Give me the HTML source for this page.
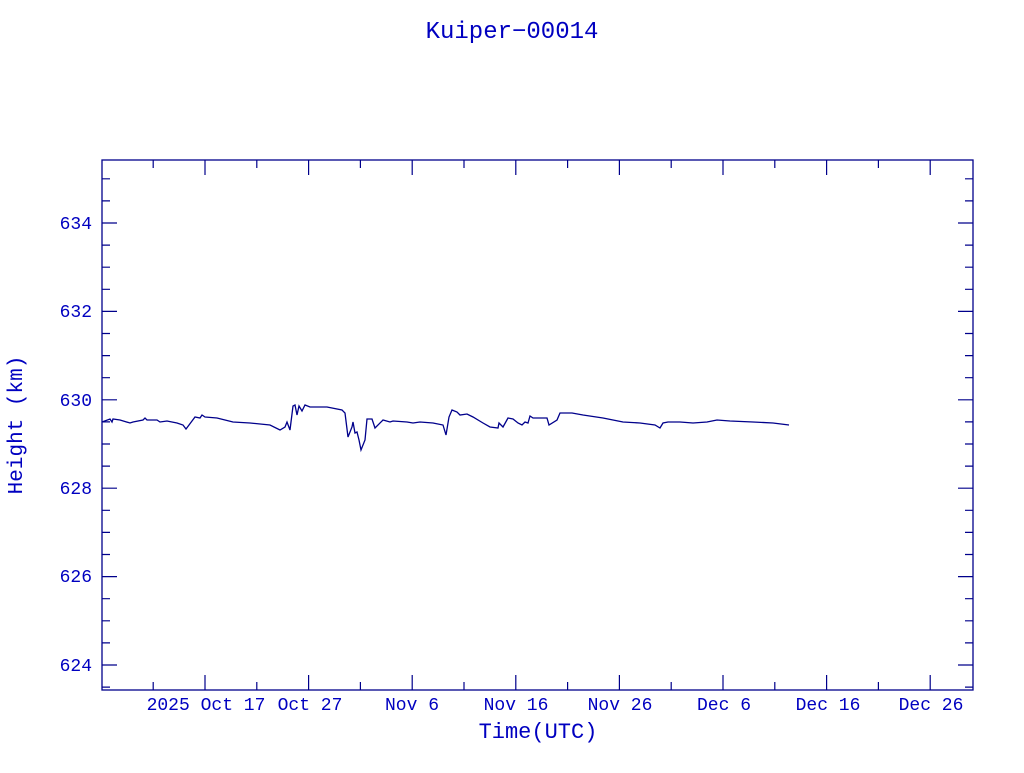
<!DOCTYPE html>
<html><head><meta charset="utf-8"><style>
html,body{margin:0;padding:0;background:#fff;}
svg text{font-family:"Liberation Mono",monospace;fill:#0000c0;}
</style></head><body>
<svg width="1024" height="768" xmlns="http://www.w3.org/2000/svg">
<rect width="1024" height="768" fill="#fff"/>
<text x="512" y="38" font-size="24" text-anchor="middle">Kuiper−00014</text>
<rect x="102" y="160" width="871" height="530" fill="none" stroke="#00008b" stroke-width="1.3"/>
<path fill="none" stroke="#00008b" stroke-width="1.2" d="
M102 665h15M102 576.6h15M102 488.2h15M102 399.8h15M102 311.4h15M102 223h15
M973 665h-15M973 576.6h-15M973 488.2h-15M973 399.8h-15M973 311.4h-15M973 223h-15
M102 687.1h8M102 642.9h8M102 620.8h8M102 598.7h8M102 554.5h8M102 532.4h8M102 510.3h8M102 466.1h8M102 444h8M102 421.9h8M102 377.7h8M102 355.6h8M102 333.5h8M102 289.3h8M102 267.2h8M102 245.1h8M102 200.9h8M102 178.8h8
M973 687.1h-8M973 642.9h-8M973 620.8h-8M973 598.7h-8M973 554.5h-8M973 532.4h-8M973 510.3h-8M973 466.1h-8M973 444h-8M973 421.9h-8M973 377.7h-8M973 355.6h-8M973 333.5h-8M973 289.3h-8M973 267.2h-8M973 245.1h-8M973 200.9h-8M973 178.8h-8
M205 690v-15M308.6 690v-15M412.2 690v-15M515.8 690v-15M619.4 690v-15M723 690v-15M826.6 690v-15M930.2 690v-15
M205 160v15M308.6 160v15M412.2 160v15M515.8 160v15M619.4 160v15M723 160v15M826.6 160v15M930.2 160v15
M153.2 690v-8M256.8 690v-8M360.4 690v-8M464 690v-8M567.6 690v-8M671.2 690v-8M774.8 690v-8M878.4 690v-8
M153.2 160v8M256.8 160v8M360.4 160v8M464 160v8M567.6 160v8M671.2 160v8M774.8 160v8M878.4 160v8"/>
<g font-size="18" text-anchor="end">
<text x="92" y="229">634</text>
<text x="92" y="317">632</text>
<text x="92" y="406">630</text>
<text x="92" y="494">628</text>
<text x="92" y="582">626</text>
<text x="92" y="671">624</text>
</g>
<g font-size="18" text-anchor="middle">
<text x="206" y="710">2025 Oct 17</text>
<text x="310" y="710">Oct 27</text>
<text x="412" y="710">Nov  6</text>
<text x="516" y="710">Nov 16</text>
<text x="620" y="710">Nov 26</text>
<text x="724" y="710">Dec  6</text>
<text x="828" y="710">Dec 16</text>
<text x="931" y="710">Dec 26</text>
</g>
<text x="538" y="738" font-size="22" text-anchor="middle">Time(UTC)</text>
<text transform="translate(22,425) rotate(-90)" font-size="21" text-anchor="middle">Height (km)</text>
<polyline fill="none" stroke="#00008b" stroke-width="1.3" points="102,422 110,419 112,422 113,419 120,420 130,423 133,422 143,420 145,418 147,420 157,420 160,422 167,421 177,423 183,425 186,429 192,421 195,417 200,418 202,415 205,417 217,418 233,422 250,423 270,425 280,430 285,427 287,422 290,430 293,406 295,405 297,415 299,406 302,411 305,405 310,407 327,407 342,410 345,413 348,437 352,427 353,422 355,433 357,432 359,440 361,450 365,440 367,419 372,419 375,428 383,420 390,422 393,421 407,422 413,423 420,422 433,423 443,425 446,435 449,417 452,410 457,412 460,415 467,414 473,417 483,423 490,427 498,428 499,423 503,427 508,418 513,419 518,423 522,425 525,422 528,423 530,416 533,418 547,418 549,425 557,420 560,413 567,413 572,413 583,415 603,418 623,422 640,423 655,425 660,428 663,423 668,422 680,422 693,423 707,422 717,420 730,421 753,422 773,423 789,425"/>
</svg>
</body></html>
